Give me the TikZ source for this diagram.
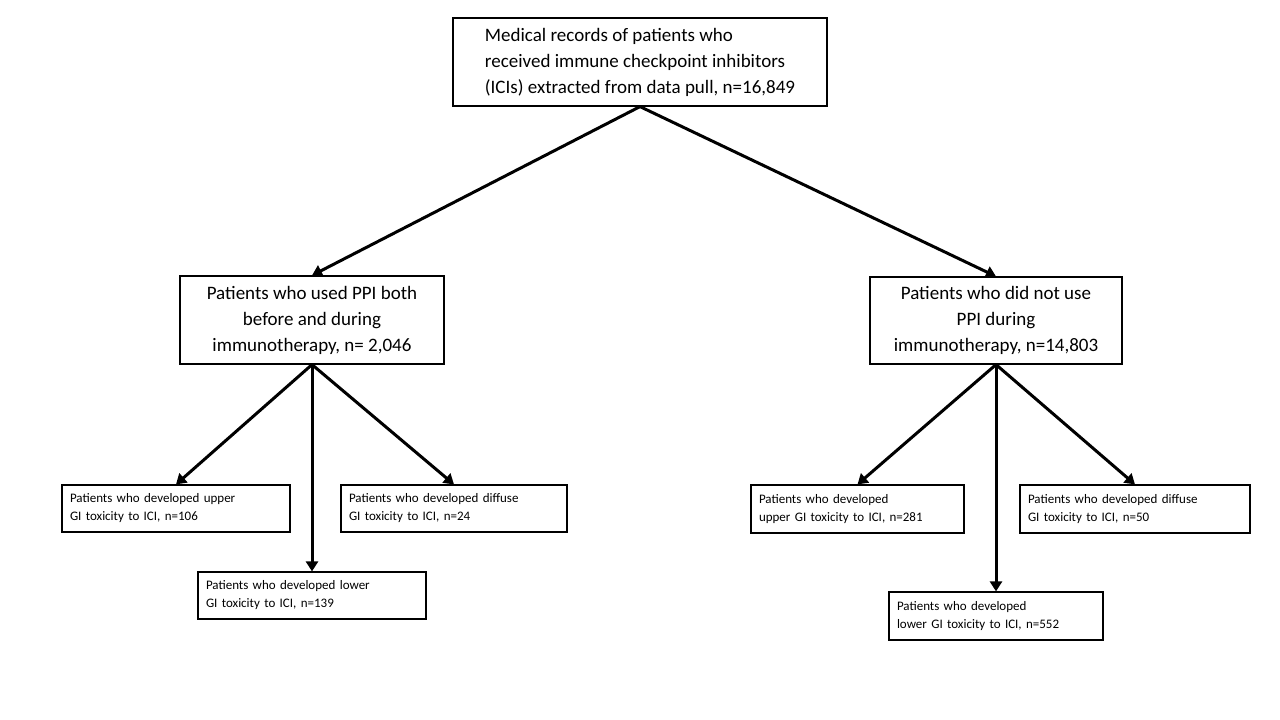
\documentclass[tikz,border=0pt]{standalone}
\usepackage{fontspec}
\setmainfont{Carlito}
\usetikzlibrary{arrows.meta}
\begin{document}
\begin{tikzpicture}[x=1pt,y=-1pt,
 box/.style={draw,line width=1.2pt,inner sep=0pt},
 big/.style={font=\fontsize{19}{26}\selectfont},
 small/.style={font=\fontsize{13}{18}\selectfont},
 arr/.style={line width=3pt,-{Triangle[length=10pt,width=12pt]}}]
\useasboundingbox (0,0) rectangle (1280,720);
\node[box,big,minimum width=374,minimum height=88,align=left] (top) at (640,62) {Medical records of patients who\\received immune checkpoint inhibitors\\(ICIs) extracted from data pull, n=16,849};
\node[box,big,minimum width=264,minimum height=88,align=center] (ml) at (312,320) {Patients who used PPI both\\before and during\\immunotherapy, n= 2,046};
\node[box,big,minimum width=252,minimum height=87,align=center] (mr) at (996,320.5) {Patients who did not use\\PPI during\\immunotherapy, n=14,803};
\node[box,small,minimum width=228,minimum height=47,align=left,text width=212] (l1) at (176,508.5) {Patients who developed upper\\GI toxicity to ICI, n=106};
\node[box,small,minimum width=228,minimum height=47,align=left,text width=212] (l2) at (312,595.5) {Patients who developed lower\\GI toxicity to ICI, n=139};
\node[box,small,minimum width=226,minimum height=47,align=left,text width=210] (l3) at (454,508.5) {Patients who developed diffuse\\GI toxicity to ICI, n=24};
\node[box,small,minimum width=213,minimum height=48,align=left,text width=197] (r1) at (857.5,509) {Patients who developed\\upper GI toxicity to ICI, n=281};
\node[box,small,minimum width=214,minimum height=48,align=left,text width=198] (r2) at (996,616) {Patients who developed\\lower GI toxicity to ICI, n=552};
\node[box,small,minimum width=230,minimum height=48,align=left,text width=214] (r3) at (1135,509) {Patients who developed diffuse\\GI toxicity to ICI, n=50};
\draw[arr] (top.south) -- (ml.north);
\draw[arr] (top.south) -- (mr.north);
\draw[arr] (ml.south) -- (l1.north);
\draw[arr] (ml.south) -- (l2.north);
\draw[arr] (ml.south) -- (l3.north);
\draw[arr] (mr.south) -- (r1.north);
\draw[arr] (mr.south) -- (r2.north);
\draw[arr] (mr.south) -- (r3.north);
\end{tikzpicture}
\end{document}
